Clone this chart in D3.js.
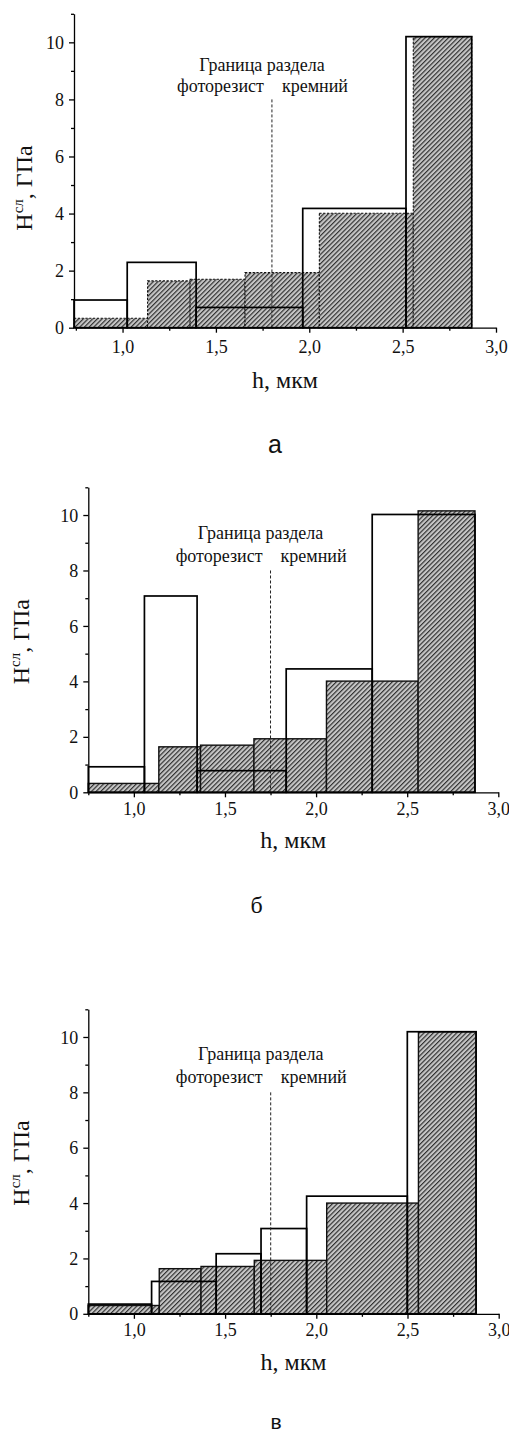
<!DOCTYPE html>
<html lang="ru">
  <head>
    <meta charset="utf-8" />
    <title>Hсл по глубине</title>
    <script src="https://d3js.org/d3.v7.min.js" charset="utf-8"></script>
    <style>
      body { margin: 0; background: #fff; }
      svg { display: block; }
      .serif { font-family: "Liberation Serif", "Times New Roman", serif; }
      .sans { font-family: "Liberation Sans", Arial, sans-serif; }
      .axis path, .axis line { stroke: #000; stroke-width: 1.3; }
      .axis text { font-family: "Liberation Serif", "Times New Roman", serif; font-size: 18px; fill: #111; }
    </style>
  </head>
  <body>
    <div id="chart"></div>
    <script>
      // ticks, shared by all three panels
      const xTicks = [1.0, 1.5, 2.0, 2.5, 3.0];
      const xMinor = [0.75, 1.25, 1.75, 2.25, 2.75];
      const yTicks = [0, 2, 4, 6, 8, 10];
      const yMinor = [1, 3, 5, 7, 9, 11];
      const captions = ["а", "б", "в"];
      const boundaries = [1.8, 1.75, 1.75];
      const boundaryTop = 8;

      // panel а
      const openEdgesA = [0.74, 1.025, 1.394, 1.965, 2.518, 2.870];
      const openValuesA = [0.97, 2.29, 0.71, 4.18, 10.2];
      const hatchEdgesA = [0.74, 1.134, 1.362, 1.656, 2.054, 2.557, 2.870];
      const hatchValuesA = [0.33, 1.64, 1.70, 1.93, 4.01, 10.2];

      // panel б
      const openEdgesB = [0.75, 1.058, 1.347, 1.836, 2.308, 2.872];
      const openValuesB = [0.92, 7.08, 0.78, 4.45, 10.02];
      const hatchEdgesB = [0.75, 1.137, 1.366, 1.659, 2.057, 2.560, 2.872];
      const hatchValuesB = [0.32, 1.64, 1.70, 1.93, 4.01, 10.15];

      // panel в
      const openEdgesC = [0.75, 1.097, 1.451, 1.697, 1.947, 2.499, 2.876];
      const openValuesC = [0.35, 1.17, 2.17, 3.08, 4.25, 10.19];
      const hatchEdgesC = [0.75, 1.139, 1.368, 1.660, 2.057, 2.560, 2.876];
      const hatchValuesC = [0.30, 1.63, 1.71, 1.93, 4.00, 10.19];

      const toBins = (edges, values) =>
        values.map((v, i) => ({ x0: edges[i], x1: edges[i + 1], v: v }));

      const panels = [
        { open: toBins(openEdgesA, openValuesA), hatch: toBins(hatchEdgesA, hatchValuesA),
          xd: [0.74, 3.0], left: 74, right: 496, bottom: 327.7, top: 13.8,
          dash: "2.2,1.6", tickDy: 25.6, xLabelY: 388.3, yLabelX: 31.7, yLabelY: 188,
          annDy: [-7, -28.5], cap: { x: 275, y: 452.5, cls: "sans", size: 25 } },
        { open: toBins(openEdgesB, openValuesB), hatch: toBins(hatchEdgesB, hatchValuesB),
          xd: [0.75, 3.0], left: 88.3, right: 498.3, bottom: 792.3, top: 487.3,
          dash: null, tickDy: 22.7, xLabelY: 848.3, yLabelX: 29.3, yLabelY: 641.7,
          annDy: [-8.5, -31], cap: { x: 256.7, y: 913, cls: "serif", size: 24 } },
        { open: toBins(openEdgesC, openValuesC), hatch: toBins(hatchEdgesC, hatchValuesC),
          xd: [0.75, 3.0], left: 88.3, right: 498.7, bottom: 1313.8, top: 1009.3,
          dash: null, tickDy: 22.7, xLabelY: 1370, yLabelX: 29.3, yLabelY: 1163,
          annDy: [-9.5, -32], cap: { x: 276, y: 1429, cls: "sans", size: 21 } }
      ];

      const svg = d3.select("#chart").append("svg")
        .attr("width", 509)
        .attr("height", 1434);

      // diagonal hatch on grey
      const pat = svg.append("defs").append("pattern")
        .attr("id", "hatch")
        .attr("patternUnits", "userSpaceOnUse")
        .attr("width", 3.3)
        .attr("height", 10)
        .attr("patternTransform", "rotate(45)");
      pat.append("rect").attr("width", 3.3).attr("height", 10).attr("fill", "#c6c6c6");
      pat.append("line")
        .attr("x1", 0.6).attr("y1", 0).attr("x2", 0.6).attr("y2", 10)
        .attr("stroke", "#2e2e2e").attr("stroke-width", 1.15);

      const fmt = (d) => d3.format(".1f")(d).replace(".", ",");

      panels.forEach((p, i) => {
        const x = d3.scaleLinear().domain(p.xd).range([p.left, p.right]);
        const y = d3.scaleLinear().domain([0, 11]).range([p.bottom, p.top]);
        const g = svg.append("g");

        // hatched bars first
        g.append("g").selectAll("rect")
          .data(p.hatch)
          .join("rect")
          .attr("x", (d) => x(d.x0))
          .attr("y", (d) => y(d.v))
          .attr("width", (d) => x(d.x1) - x(d.x0))
          .attr("height", (d) => y(0) - y(d.v))
          .attr("fill", "url(#hatch)")
          .attr("stroke", "#111")
          .attr("stroke-width", p.dash ? 1.1 : 1.4)
          .attr("stroke-dasharray", p.dash);

        // open bars on top, outline only
        g.append("g").selectAll("rect")
          .data(p.open)
          .join("rect")
          .attr("x", (d) => x(d.x0))
          .attr("y", (d) => y(d.v))
          .attr("width", (d) => x(d.x1) - x(d.x0))
          .attr("height", (d) => y(0) - y(d.v))
          .attr("fill", "none")
          .attr("stroke", "#000")
          .attr("stroke-width", 1.7);

        // interface line
        const bx = x(boundaries[i]);
        g.append("line")
          .attr("x1", bx).attr("x2", bx)
          .attr("y1", y(boundaryTop)).attr("y2", y(0))
          .attr("stroke", "#222")
          .attr("stroke-width", 1)
          .attr("stroke-dasharray", "3,2");

        const ann = g.append("g").attr("class", "serif").style("font-size", "18px").attr("fill", "#111");
        ann.append("text")
          .attr("x", bx - 10).attr("y", y(boundaryTop) + p.annDy[1])
          .attr("text-anchor", "middle")
          .text("Граница раздела");
        ann.append("text")
          .attr("x", bx - 8).attr("y", y(boundaryTop) + p.annDy[0])
          .attr("text-anchor", "end")
          .text("фоторезист");
        ann.append("text")
          .attr("x", bx + 10).attr("y", y(boundaryTop) + p.annDy[0])
          .attr("text-anchor", "start")
          .text("кремний");

        // axes
        const gx = g.append("g").attr("class", "axis")
          .attr("transform", `translate(0,${p.bottom})`)
          .call(d3.axisBottom(x).tickValues(xTicks).tickSize(5).tickSizeOuter(0).tickFormat(fmt));
        gx.selectAll("text").attr("dy", null).attr("y", p.tickDy);
        g.append("g").attr("class", "axis")
          .attr("transform", `translate(0,${p.bottom})`)
          .call(d3.axisBottom(x).tickValues(xMinor).tickSize(3).tickFormat(""))
          .select(".domain").remove();

        g.append("g").attr("class", "axis")
          .attr("transform", `translate(${p.left},0)`)
          .call(d3.axisLeft(y).tickValues(yTicks).tickSize(5).tickSizeOuter(0).tickPadding(5))
          .selectAll("text").attr("dy", "0.34em");
        g.append("g").attr("class", "axis")
          .attr("transform", `translate(${p.left},0)`)
          .call(d3.axisLeft(y).tickValues(yMinor).tickSize(3).tickFormat(""))
          .select(".domain").remove();

        // axis titles
        g.append("text")
          .attr("class", "serif")
          .attr("x", (p.left + p.right) / 2)
          .attr("y", p.xLabelY)
          .attr("text-anchor", "middle")
          .style("font-size", "24px")
          .attr("fill", "#111")
          .text("h, мкм");

        const yl = g.append("text")
          .attr("class", "serif")
          .attr("transform", `translate(${p.yLabelX},${p.yLabelY}) rotate(-90)`)
          .attr("text-anchor", "middle")
          .style("font-size", "24px")
          .attr("fill", "#111");
        yl.append("tspan").text("H");
        yl.append("tspan").attr("dy", -9).style("font-size", "15px").text("сл");
        yl.append("tspan").attr("dy", 9).text(", ГПа");

        // panel letter
        svg.append("text")
          .attr("class", p.cap.cls)
          .attr("x", p.cap.x)
          .attr("y", p.cap.y)
          .attr("text-anchor", "middle")
          .style("font-size", p.cap.size + "px")
          .attr("fill", "#111")
          .text(captions[i]);
      });
    </script>
  </body>
</html>
